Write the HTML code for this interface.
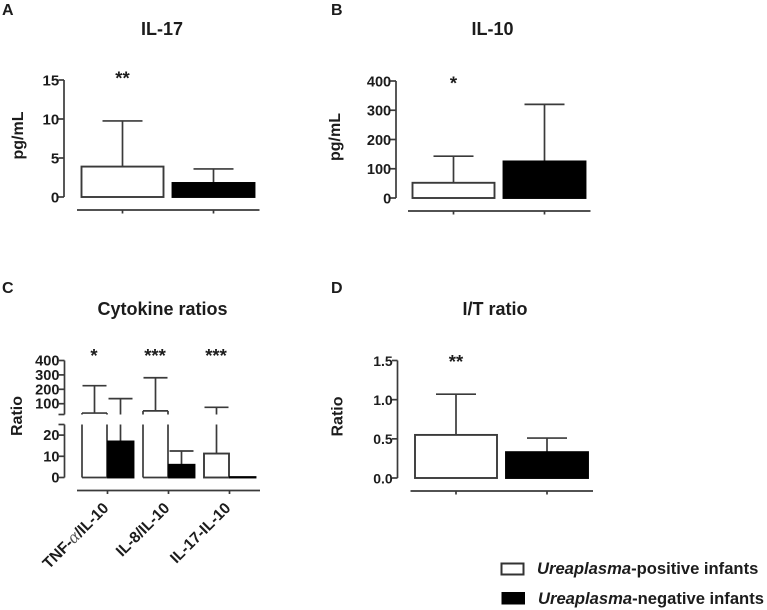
<!DOCTYPE html>
<html>
<head>
<meta charset="utf-8">
<title>Ureaplasma cytokine charts</title>
<style>
html,body{margin:0;padding:0;background:#fff;}
svg{display:block;}
text{font-family:"Liberation Sans",sans-serif;font-weight:bold;fill:#1c1c1c;}
</style>
</head>
<body>
<svg id="fig" width="767" height="610" viewBox="0 0 767 610" xmlns="http://www.w3.org/2000/svg">
  <text x="2" y="15" font-size="16">A</text>
  <text x="331" y="15" font-size="16">B</text>
  <text x="2" y="293" font-size="16">C</text>
  <text x="331" y="293" font-size="16">D</text>

  <text x="162" y="35" font-size="18" text-anchor="middle">IL-17</text>
  <text x="492.5" y="35" font-size="18" text-anchor="middle">IL-10</text>
  <text x="162.5" y="315" font-size="18" text-anchor="middle">Cytokine ratios</text>
  <text x="495" y="315" font-size="18" text-anchor="middle">I/T ratio</text>

  <text transform="translate(23,135.5) rotate(-90)" font-size="16" text-anchor="middle">pg/mL</text>
  <text transform="translate(340,137) rotate(-90)" font-size="16" text-anchor="middle">pg/mL</text>
  <text transform="translate(22,416) rotate(-90)" font-size="16" text-anchor="middle">Ratio</text>
  <text transform="translate(342.5,416.5) rotate(-90)" font-size="16" text-anchor="middle">Ratio</text>

  <rect x="501.5" y="563.5" width="22" height="11" fill="#fff" stroke="#333" stroke-width="2"/>
  <rect x="501.5" y="592" width="23.5" height="12.5" fill="#000"/>
  <text x="537" y="574" font-size="16.6"><tspan font-style="italic">Ureaplasma</tspan>-positive infants</text>
  <text x="538" y="604" font-size="16.6"><tspan font-style="italic">Ureaplasma</tspan>-negative infants</text>
</svg>
<script>
// ---- Chart data ----
const ticksA = [0, 5, 10, 15];
const meanA = [3.9, 1.8];
const errA = [9.75, 3.6];
const starsA = ["**"];

const ticksB = [0, 100, 200, 300, 400];
const meanB = [52, 125];
const errB = [143, 320];
const starsB = ["*"];

const ticksCLower = [0, 10, 20];
const ticksCUpper = [100, 200, 300, 400];
const categoriesC = ["TNF-α/IL-10", "IL-8/IL-10", "IL-17-IL-10"];
const positiveC = [35, 50, 11.3];
const positiveErrC = [225, 280, 75];
const negativeC = [17, 6, 0.2];
const negativeErrC = [135, 12.5, 0.2];
const starsC = ["*", "***", "***"];

const ticksD = ["0.0", "0.5", "1.0", "1.5"];
const meanD = [0.55, 0.33];
const errD = [1.07, 0.51];
const starsD = ["**"];

// ---- Drawing helpers ----
const svg = document.getElementById('fig');
const NS = 'http://www.w3.org/2000/svg';
const INK = '#3a3a3a';

function line(x1, y1, x2, y2, name, w) {
  const el = document.createElementNS(NS, 'line');
  el.setAttribute('x1', x1);
  el.setAttribute('y1', y1);
  el.setAttribute('x2', x2);
  el.setAttribute('y2', y2);
  el.setAttribute('stroke', INK);
  el.setAttribute('stroke-width', w || 1.7);
  
  
  svg.appendChild(el);
  return el;
}
function label(x, y, str, size, anchor, name) {
  const el = document.createElementNS(NS, 'text');
  el.setAttribute('x', x);
  el.setAttribute('y', y);
  el.setAttribute('font-size', size);
  el.setAttribute('text-anchor', anchor);
  el.textContent = str;
  
  
  svg.appendChild(el);
  return el;
}
function box(x, w, yTop, yBase, filled, name) {
  const el = document.createElementNS(NS, 'rect');
  el.setAttribute('x', x);
  el.setAttribute('y', yTop);
  el.setAttribute('width', w);
  el.setAttribute('height', Math.max(0, yBase - yTop));
  el.setAttribute('fill', filled ? '#000' : '#fff');
  el.setAttribute('stroke', filled ? '#000' : INK);
  el.setAttribute('stroke-width', 1.9);
  
  
  svg.appendChild(el);
  return el;
}
function linear(d0, d1, r0, r1) {
  return function (v) { return r0 + (v - d0) * (r1 - r0) / (d1 - d0); };
}

// Two-bar panels (A, B, D)
function simplePanel(id, L, ticks, means, errs, stars) {
  const y = linear(L.min, L.max, L.y0, L.y1);
  line(L.axisX, L.y1, L.axisX, L.y0, 'y-axis-' + id);
  ticks.forEach(function (t) {
    const v = Number(t);
    line(L.axisX - 5.5, y(v), L.axisX, y(v), 'y-tick-' + id);
    label(L.axisX - 4.8, y(v) + 5.3, String(t), L.font, 'end', 'y-tick-label-' + id);
  });
  line(L.cx - 45.5, L.axisY, L.cx + 137, L.axisY, 'x-axis-' + id);
  means.forEach(function (m, i) {
    const cx = L.cx + i * L.step;
    line(cx, y(m), cx, y(errs[i]), 'error-bar-' + id + '-' + i);
    line(cx - 20, y(errs[i]), cx + 20, y(errs[i]), 'error-cap-' + id + '-' + i);
    box(cx - 41, 82, y(m), L.y0, i === 1, 'bar-' + id + '-' + i);
    line(cx, L.axisY, cx, L.axisY + 3.5, 'x-tick-' + id + '-' + i);
  });
  stars.forEach(function (s) {
    label(L.cx, L.starY, s, 18.5, 'middle', 'significance-' + id);
  });
}

simplePanel('a', {min: 0, max: 15, y0: 197, y1: 80, axisX: 64, axisY: 210, cx: 122.5, step: 91, font: 15, starY: 84.5}, ticksA, meanA, errA, starsA);
simplePanel('b', {min: 0, max: 400, y0: 198, y1: 81, axisX: 396, axisY: 211, cx: 453.5, step: 91, font: 14.6, starY: 89.5}, ticksB, meanB, errB, starsB);
simplePanel('d', {min: 0, max: 1.5, y0: 478, y1: 360.5, axisX: 397.5, axisY: 491, cx: 456, step: 91, font: 14, starY: 368}, ticksD, meanD, errD, starsD);

// Broken-axis panel C
(function () {
  const BREAK = 25;
  const yLow = linear(0, BREAK, 477.5, 424.5);
  const yHigh = linear(100, 400, 403.7, 360.5);
  const segBottom = yHigh(BREAK);
  const axisX = 64.5;

  line(axisX, yLow(0), axisX, yLow(BREAK), 'y-axis-lower');
  line(axisX, yHigh(400), axisX, segBottom, 'y-axis-upper');
  line(axisX - 6, yLow(BREAK), axisX, yLow(BREAK), 'y-axis-break-lower');
  line(axisX - 6, segBottom, axisX, segBottom, 'y-axis-break-upper');
  ticksCLower.forEach(function (t) {
    line(axisX - 5.5, yLow(t), axisX, yLow(t), 'y-tick-c');
    label(axisX - 5, yLow(t) + 5, String(t), 14.6, 'end', 'y-tick-label-c');
  });
  ticksCUpper.forEach(function (t) {
    line(axisX - 5.5, yHigh(t), axisX, yHigh(t), 'y-tick-c');
    label(axisX - 5, yHigh(t) + 5, String(t), 14.6, 'end', 'y-tick-label-c');
  });
  line(77, 490.5, 260, 490.5, 'x-axis-c');

  function errorBar(cx, from, to, id) {
    if (to <= from) return;
    if (from < BREAK) line(cx, yLow(from), cx, yLow(Math.min(to, BREAK)), 'error-bar-' + id);
    if (to > BREAK) {
      line(cx, yHigh(Math.max(from, BREAK)), cx, yHigh(to), 'error-bar-upper-' + id);
      line(cx - 12, yHigh(to), cx + 12, yHigh(to), 'error-cap-' + id);
    } else {
      line(cx - 12, yLow(to), cx + 12, yLow(to), 'error-cap-' + id);
    }
  }
  function whiteBar(x, w, v, id) {
    if (v <= BREAK) {
      box(x, w, yLow(v), yLow(0), false, 'bar-' + id);
      return;
    }
    line(x, yLow(0), x + w, yLow(0), 'bar-base-' + id);
    line(x, yLow(0), x, yLow(BREAK), 'bar-left-' + id);
    line(x + w, yLow(0), x + w, yLow(BREAK), 'bar-right-' + id);
    line(x, yHigh(v), x + w, yHigh(v), 'bar-top-' + id);
    line(x, yHigh(v), x, segBottom, 'bar-left-upper-' + id);
    line(x + w, yHigh(v), x + w, segBottom, 'bar-right-upper-' + id);
  }

  categoriesC.forEach(function (cat, i) {
    const cx = 107.5 + i * 61;
    errorBar(cx - 13, positiveC[i], positiveErrC[i], 'positive-' + i);
    whiteBar(cx - 25.5, 25, positiveC[i], 'positive-' + i);
    errorBar(cx + 13, negativeC[i], negativeErrC[i], 'negative-' + i);
    box(cx + 0.5, 25.5, yLow(negativeC[i]), yLow(0), true, 'bar-negative-' + i);
    line(cx, 490.5, cx, 494, 'x-tick-c-' + i);
    const tx = label(0, 0, '', 15.6, 'end', 'x-tick-label-c-' + i);
    tx.innerHTML = cat.replace('α', '<tspan font-family="Liberation Serif" font-weight="normal" font-style="italic" font-size="18" fill="#555">α</tspan>');
    tx.setAttribute('transform', 'translate(' + (cx + 2) + ',509) rotate(-45)');
    label(cx - 13.5, 362, starsC[i], 18.5, 'middle', 'significance-c-' + i);
  });
})();
</script>
</body>
</html>
